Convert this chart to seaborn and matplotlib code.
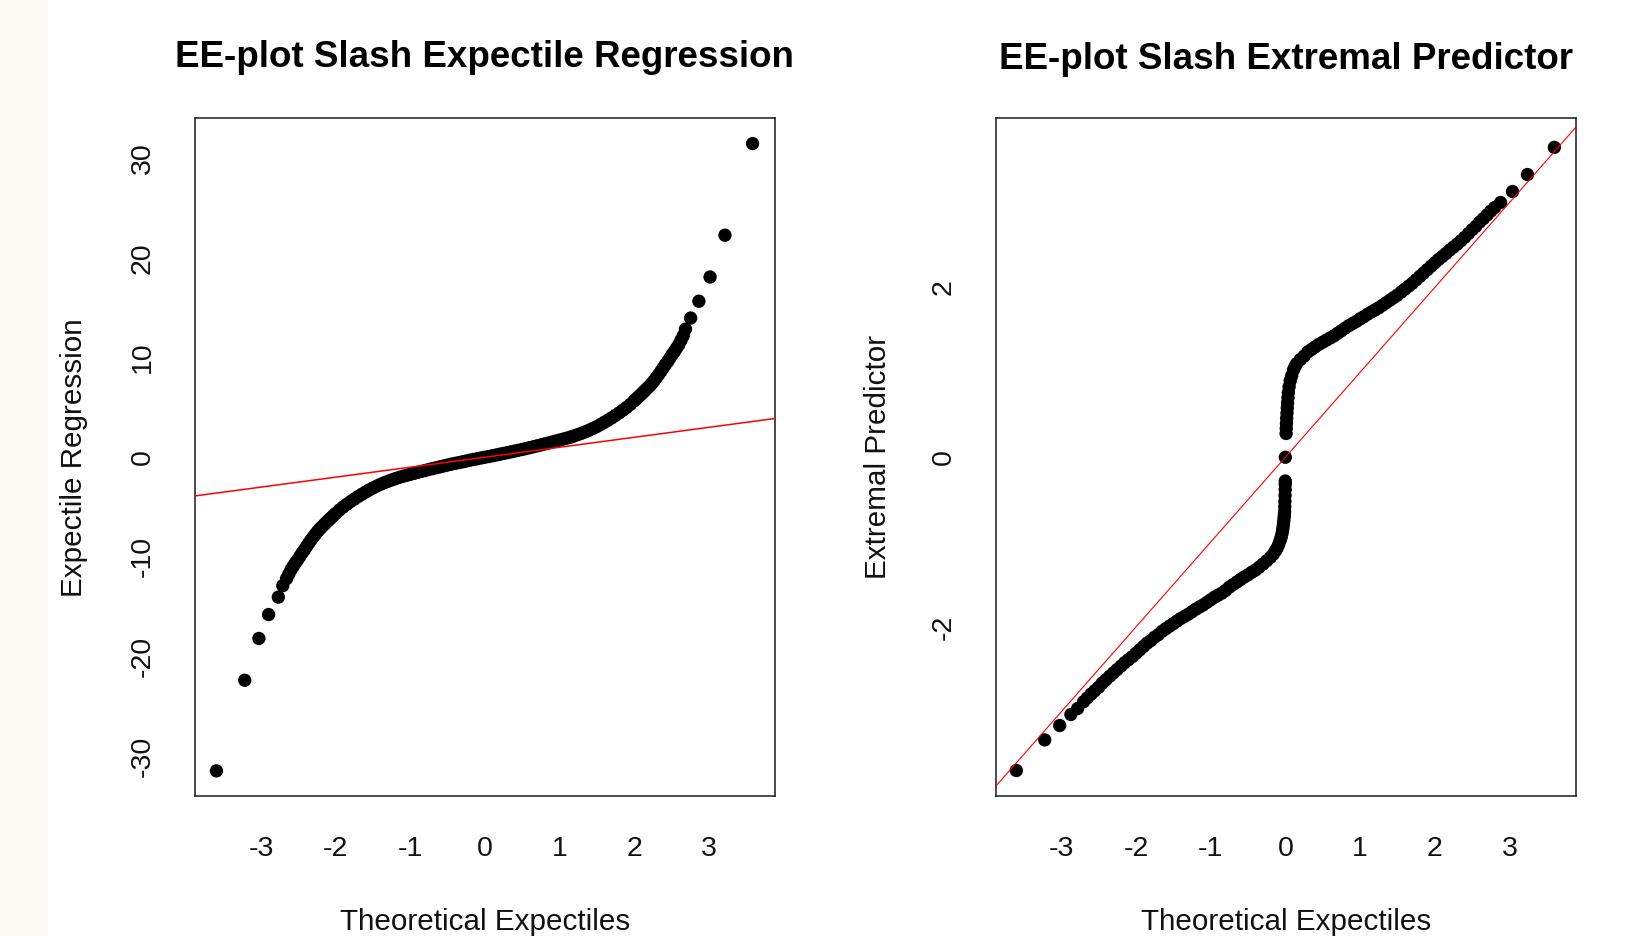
import matplotlib
matplotlib.use("Agg")
import matplotlib.pyplot as plt
from matplotlib.patches import Rectangle
import seaborn as sns
import pandas as pd

# ---------------- data ----------------
# Left panel: EE-plot Slash Expectile Regression
er_x = [-3.60, -3.22, -3.03, -2.90, -2.77, -2.71, -2.66, -2.63, -2.60, -2.57,
        -2.54, -2.51, -2.48, -2.45, -2.42, -2.39, -2.36, -2.33, -2.30, -2.27,
        -2.24, -2.21, -2.18, -2.15, -2.12, -2.09, -2.06, -2.03, -2.00, -1.95,
        -1.90, -1.85, -1.80, -1.75, -1.70, -1.65, -1.60, -1.55, -1.50, -1.45,
        -1.40, -1.35, -1.30, -1.25, -1.20, -1.15, -1.10, -1.05, -1.00, -0.95,
        -0.90, -0.85, -0.80, -0.75, -0.70, -0.65, -0.60, -0.55, -0.50, -0.45,
        -0.40, -0.35, -0.30, -0.25, -0.20, -0.15, -0.10, -0.05,
        0.00,
        0.05, 0.10, 0.15, 0.20, 0.25, 0.30, 0.35, 0.40, 0.45, 0.50,
        0.55, 0.60, 0.65, 0.70, 0.75, 0.80, 0.85, 0.90, 0.95, 1.00,
        1.05, 1.10, 1.15, 1.20, 1.25, 1.30, 1.35, 1.40, 1.45, 1.50,
        1.55, 1.60, 1.65, 1.70, 1.75, 1.80, 1.85, 1.90, 1.95, 2.00,
        2.03, 2.06, 2.09, 2.12, 2.15, 2.18, 2.21, 2.24, 2.27, 2.30,
        2.33, 2.36, 2.39, 2.42, 2.45, 2.48, 2.51, 2.54, 2.57, 2.60,
        2.63, 2.66, 2.69, 2.76, 2.87, 3.02, 3.22, 3.59]
er_y = [-31.50, -22.40, -18.20, -15.80, -14.05, -12.90, -12.20, -11.75, -11.30, -10.95,
        -10.60, -10.30, -9.95, -9.60, -9.30, -8.95, -8.62, -8.30, -8.00, -7.70,
        -7.42, -7.17, -6.95, -6.72, -6.50, -6.28, -6.07, -5.85, -5.65, -5.30,
        -5.00, -4.72, -4.45, -4.20, -3.95, -3.72, -3.50, -3.28, -3.08, -2.90,
        -2.72, -2.56, -2.42, -2.28, -2.15, -2.03, -1.92, -1.82, -1.72, -1.62,
        -1.52, -1.42, -1.33, -1.23, -1.14, -1.05, -0.96, -0.87, -0.78, -0.70,
        -0.62, -0.54, -0.46, -0.38, -0.30, -0.22, -0.15, -0.07,
        0.00,
        0.07, 0.15, 0.22, 0.30, 0.38, 0.46, 0.54, 0.62, 0.70, 0.78,
        0.87, 0.96, 1.05, 1.14, 1.23, 1.33, 1.42, 1.52, 1.62, 1.72,
        1.82, 1.92, 2.03, 2.15, 2.28, 2.42, 2.56, 2.72, 2.90, 3.08,
        3.28, 3.50, 3.72, 3.95, 4.20, 4.45, 4.72, 5.00, 5.30, 5.65,
        5.85, 6.07, 6.28, 6.50, 6.72, 6.95, 7.17, 7.42, 7.70, 8.00,
        8.30, 8.62, 8.95, 9.30, 9.60, 9.95, 10.30, 10.60, 10.95, 11.30,
        11.75, 12.20, 12.87, 13.98, 15.67, 18.10, 22.30, 31.50]

# Right panel: EE-plot Slash Extremal Predictor
ep_x = [-3.60, -3.22, -3.02, -2.87, -2.78, -2.70, -2.65, -2.60, -2.55, -2.50,
        -2.45, -2.40, -2.35, -2.30, -2.25, -2.20, -2.15, -2.10, -2.05, -2.00,
        -1.95, -1.90, -1.85, -1.80, -1.75, -1.70, -1.65, -1.60, -1.55, -1.50,
        -1.45, -1.40, -1.35, -1.30, -1.25, -1.20, -1.15, -1.10, -1.05, -1.00,
        -0.95, -0.90, -0.85, -0.80, -0.75, -0.70, -0.65, -0.60, -0.55, -0.50,
        -0.45, -0.40, -0.35, -0.30, -0.25, -0.20, -0.16, -0.13, -0.11, -0.09,
        -0.07, -0.055, -0.045, -0.037, -0.030, -0.025, -0.020, -0.015, -0.012, -0.010,
        -0.008, -0.006, -0.004, -0.002, -0.001, -0.001,
        0.000,
        0.010, 0.012, 0.015, 0.018, 0.022, 0.026, 0.030, 0.035, 0.040, 0.050,
        0.065, 0.085, 0.11, 0.13, 0.15, 0.20, 0.25, 0.30, 0.35, 0.40,
        0.45, 0.50, 0.55, 0.60, 0.65, 0.70, 0.75, 0.80, 0.85, 0.90,
        0.95, 1.00, 1.05, 1.10, 1.15, 1.20, 1.25, 1.30, 1.35, 1.40,
        1.45, 1.50, 1.55, 1.60, 1.65, 1.70, 1.75, 1.80, 1.85, 1.90,
        1.95, 2.00, 2.05, 2.10, 2.15, 2.20, 2.25, 2.30, 2.35, 2.40,
        2.45, 2.50, 2.55, 2.60, 2.65, 2.70, 2.75, 2.80, 2.88, 3.04,
        3.24, 3.60]
ep_y = [-3.69, -3.33, -3.16, -3.03, -2.96, -2.88, -2.835, -2.79, -2.75, -2.71,
        -2.66, -2.62, -2.58, -2.54, -2.50, -2.46, -2.42, -2.385, -2.35, -2.31,
        -2.27, -2.23, -2.19, -2.16, -2.12, -2.09, -2.05, -2.02, -1.99, -1.96,
        -1.93, -1.90, -1.875, -1.85, -1.82, -1.79, -1.765, -1.74, -1.71, -1.68,
        -1.65, -1.625, -1.60, -1.57, -1.53, -1.50, -1.47, -1.44, -1.41, -1.385,
        -1.355, -1.33, -1.295, -1.26, -1.22, -1.18, -1.14, -1.10, -1.07, -1.03,
        -0.98, -0.94, -0.90, -0.86, -0.82, -0.78, -0.74, -0.70, -0.67, -0.64,
        -0.58, -0.52, -0.45, -0.38, -0.32, -0.28,
        0.00,
        0.28, 0.34, 0.40, 0.46, 0.52, 0.58, 0.64, 0.70, 0.76, 0.83,
        0.90, 0.96, 1.03, 1.07, 1.10, 1.15, 1.19, 1.24, 1.27, 1.30,
        1.33, 1.355, 1.38, 1.405, 1.43, 1.46, 1.49, 1.52, 1.55, 1.575,
        1.60, 1.63, 1.655, 1.685, 1.71, 1.735, 1.76, 1.79, 1.82, 1.85,
        1.88, 1.91, 1.945, 1.98, 2.015, 2.05, 2.09, 2.13, 2.17, 2.21,
        2.25, 2.29, 2.33, 2.365, 2.40, 2.44, 2.475, 2.51, 2.55, 2.59,
        2.635, 2.68, 2.72, 2.77, 2.81, 2.855, 2.90, 2.94, 3.00, 3.13,
        3.33, 3.65]

# reference line y = a + b x
ref_intercept = 0.0
ref_slope = 1.0

titles = ["EE-plot Slash Expectile Regression", "EE-plot Slash Extremal Predictor"]
xlabel = "Theoretical Expectiles"
ylabels = ["Expectile Regression", "Extremal Predictor"]
xticks = [-3, -2, -1, 0, 1, 2, 3]
yticks_left = [-30, -20, -10, 0, 10, 20, 30]
yticks_right = [-2, 0, 2]

# ---------------- drawing ----------------
sns.set_style("white")
plt.rcParams["font.family"] = ["Liberation Sans", "DejaVu Sans"]
plt.rcParams["axes.unicode_minus"] = False

W, H = 1645, 936
fig = plt.figure(figsize=(W / 100, H / 100), dpi=100)
fig.patch.set_facecolor("white")
fig.patches.append(Rectangle((0, 0), 48 / W, 1, transform=fig.transFigure,
                             facecolor="#fcfaf4", edgecolor="none", zorder=-5))

ax_y0, ax_h = 0.1496, 0.7238
axL = fig.add_axes([0.1185, ax_y0, 0.3525, ax_h])
axR = fig.add_axes([0.6053, ax_y0, 0.3525, ax_h])

dfL = pd.DataFrame({"x": er_x, "y": er_y})
dfR = pd.DataFrame({"x": ep_x, "y": ep_y})

for ax, df, lw_ref in [(axL, dfL, 1.1), (axR, dfR, 0.8)]:
    sns.scatterplot(data=df, x="x", y="y", ax=ax, color="black", s=92,
                    linewidth=0, edgecolor="none", legend=False, zorder=3)
    ax.axline((0, ref_intercept), slope=ref_slope, color="red", lw=lw_ref, zorder=4)
    ax.set_xlabel("")
    ax.set_ylabel("")
    ax.set_xticks(xticks)
    ax.set_xticklabels([str(t) for t in xticks])
    for sp in ax.spines.values():
        sp.set_visible(True)
        sp.set_color("#1a1a1a")
        sp.set_linewidth(1.1)
    ax.tick_params(axis="both", direction="out", length=12.5, width=1.0,
                   color="#1a1a1a", labelsize=20.5, labelcolor="#111111")
    ax.tick_params(axis="x", pad=16.5)
    ax.tick_params(axis="y", pad=15.5)
    ax.grid(False)

axL.set_xlim(-3.888, 3.888)
axL.set_ylim(-34.02, 34.02)
axL.set_yticks(yticks_left)
axL.set_yticklabels([str(t) for t in yticks_left])

axR.set_xlim(-3.876, 3.884)
axR.set_ylim(-3.99, 3.99)
axR.set_yticks(yticks_right)
axR.set_yticklabels([str(t) for t in yticks_right])

for ax in (axL, axR):
    for lab in ax.get_yticklabels():
        lab.set_rotation(90)
        lab.set_va("center")

# titles and axis labels
for ax, title, ylab, ty, lx in [(axL, titles[0], ylabels[0], 0.9284, 0.0450),
                                (axR, titles[1], ylabels[1], 0.9262, 0.5335)]:
    pos = ax.get_position()
    cx = pos.x0 + pos.width / 2
    cy = pos.y0 + pos.height / 2
    fig.text(cx, ty, title, ha="center", va="baseline", fontsize=26.5,
             fontweight="bold", color="black")
    fig.text(cx, 0.0065, xlabel, ha="center", va="baseline", fontsize=21.3,
             color="#111111")
    fig.text(lx, cy, ylab, ha="center", va="center", rotation=90,
             fontsize=21.3, color="#111111")

fig.savefig("out.png", dpi=100)
